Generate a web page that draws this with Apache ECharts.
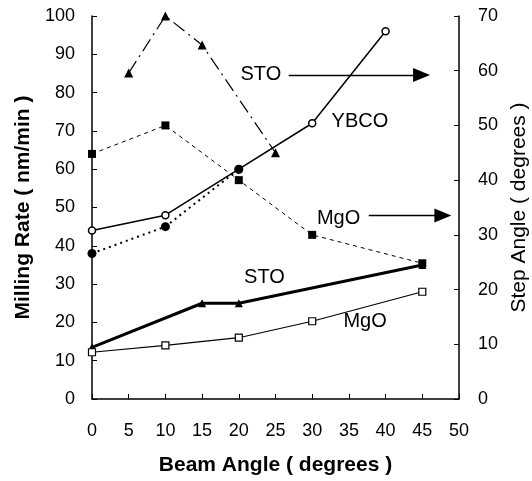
<!DOCTYPE html>
<html><head><meta charset="utf-8">
<script src="https://cdn.jsdelivr.net/npm/echarts@6/dist/echarts.min.js"></script>
<style>html,body{margin:0;padding:0;background:#fff}#c{width:532px;height:481px}</style>
</head><body><div id="c"></div>
<script>
// Milling rate (left axis, nm/min)
const ybcoRate = [[0,44],[10,48],[20,60],[30,72],[40,96]];
const stoRate  = [[0,13.5],[15,25],[20,25],[45,35]];
const mgoRate  = [[0,12.2],[10,14],[20,16],[30,20.3],[45,28]];
// Step angle (right axis, degrees)
const ybcoStep = [[0,26.6],[10,31.5],[20,42]];
const stoStep  = [[5,59.6],[10,70],[15,64.7],[25,45]];
const mgoStep  = [[0,44.8],[10,50],[20,40],[30,30],[45,24.8]];
// Axis ticks
const xTicks = {min:0,max:50,interval:5};
const yLeftTicks = {min:0,max:100,interval:10};
const yRightTicks = {min:0,max:70,interval:10};
// Annotations (data coords on left axis)
const labels = [
  {text:'STO', x:23, y:84.6},
  {text:'YBCO', x:36.5, y:72.4},
  {text:'MgO', x:33.6, y:47.1},
  {text:'STO', x:23.5, y:31.8},
  {text:'MgO', x:37.2, y:20.3}
];
const arrows = [
  {from:[26.8,84.6], to:[44.9,84.6]},
  {from:[37.7,47.9], to:[47.8,47.9]}
];

const F = 'Liberation Sans, Arial, sans-serif';
const chart = echarts.init(document.getElementById('c'));
const axisCommon = {
  axisLine:{show:true,lineStyle:{color:'#000',width:1.5}},
  axisTick:{show:true,inside:true,length:5,lineStyle:{color:'#000'}},
  splitLine:{show:false}
};
chart.setOption({
  animation:false,
  backgroundColor:'#fff',
  grid:{left:92,right:73,top:16,bottom:82,containLabel:false,outerBoundsMode:'none'},
  xAxis:Object.assign({type:'value'},xTicks,axisCommon,{
    name:'Beam Angle ( degrees )',nameLocation:'middle',nameGap:56,
    nameTextStyle:{color:'#000',fontSize:21,fontWeight:'bold',fontFamily:F},
    axisLabel:{color:'#000',fontSize:18,fontFamily:F,margin:23}
  }),
  yAxis:[
    Object.assign({type:'value',position:'left'},yLeftTicks,axisCommon,{
      name:'Milling Rate ( nm/min )',nameLocation:'middle',nameGap:52,
      nameTextStyle:{color:'#000',fontSize:21,fontWeight:'bold',fontFamily:F},
      axisLabel:{color:'#000',fontSize:18,fontFamily:F,margin:17}
    }),
    Object.assign({type:'value',position:'right'},yRightTicks,axisCommon,{
      name:'Step Angle ( degrees )',nameLocation:'middle',nameGap:50,
      nameTextStyle:{color:'#000',fontSize:21,fontFamily:F},
      axisLabel:{color:'#000',fontSize:18,fontFamily:F,margin:19}
    })
  ],
  series:[
    {type:'line',data:ybcoRate,yAxisIndex:0,symbol:'circle',symbolSize:7,
      lineStyle:{color:'#000',width:1.5},itemStyle:{color:'#fff',borderColor:'#000',borderWidth:1.5},z:3},
    {type:'line',data:stoRate,yAxisIndex:0,symbol:'triangle',symbolSize:8,
      lineStyle:{color:'#000',width:3},itemStyle:{color:'#000'}},
    {type:'line',data:mgoRate,yAxisIndex:0,symbol:'rect',symbolSize:7,
      lineStyle:{color:'#000',width:1.2},itemStyle:{color:'#fff',borderColor:'#000',borderWidth:1.2}},
    {type:'line',data:ybcoStep,yAxisIndex:1,symbol:'circle',symbolSize:9,
      lineStyle:{color:'#000',width:2,type:[2,4]},itemStyle:{color:'#000'}},
    {type:'line',data:stoStep,yAxisIndex:1,symbol:'triangle',symbolSize:9,
      lineStyle:{color:'#000',width:1.2,type:[14,5,2,5]},itemStyle:{color:'#000'}},
    {type:'line',data:mgoStep,yAxisIndex:1,symbol:'rect',symbolSize:8,
      lineStyle:{color:'#000',width:1,type:[4,4]},itemStyle:{color:'#000'}},
    {type:'line',data:[],yAxisIndex:0,
      markLine:{silent:true,symbol:['none','triangle'],symbolSize:[14,17],
        lineStyle:{color:'#000',width:1.3,type:'solid'},label:{show:false},
        data:arrows.map(a=>[{coord:a.from},{coord:a.to}])}}
  ]
});
chart.setOption({
  graphic:labels.map(l=>{
    const p = chart.convertToPixel({xAxisIndex:0,yAxisIndex:0},[l.x,l.y]);
    return {type:'text',x:p[0],y:p[1],style:{text:l.text,font:'20px '+F,fill:'#000',align:'center',verticalAlign:'middle'}};
  })
});
</script></body></html>
